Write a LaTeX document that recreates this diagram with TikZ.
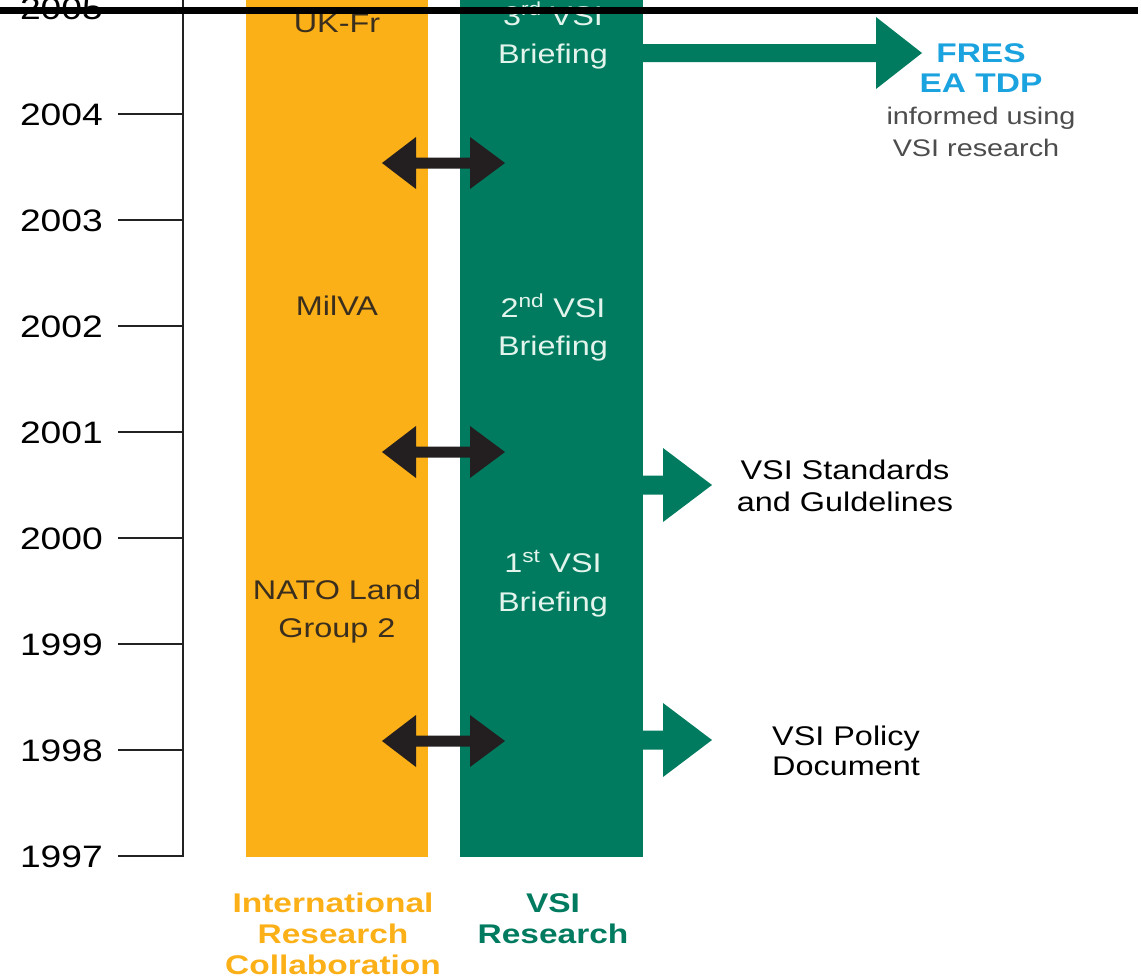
\documentclass[tikz,border=0pt]{standalone}
\usepackage{fontspec}
\setmainfont{Liberation Sans}[FakeStretch=1.2]
\newfontfamily\boldfam{Liberation Sans Bold}[FakeStretch=1.24]
\definecolor{barorange}{HTML}{FCB017}
\definecolor{bargreen}{HTML}{007B5F}
\definecolor{arrowblack}{HTML}{231F20}
\definecolor{darktext}{HTML}{3A2E1E}
\definecolor{lighttext}{HTML}{E3F4EC}
\definecolor{fresblue}{HTML}{1BA3E0}
\definecolor{graytext}{HTML}{4D4D4D}
\definecolor{axisgray}{HTML}{222222}
\tikzset{
  year/.style={anchor=base east, inner sep=0pt, font=\fontsize{31}{36}\selectfont, text=black},
  bartxt/.style={anchor=base, inner sep=0pt, font=\fontsize{27}{32}\selectfont},
  otxt/.style={bartxt, text=darktext},
  gtxt/.style={bartxt, text=lighttext},
  rtxt/.style={anchor=base, inner sep=0pt, font=\fontsize{27}{32}\selectfont, text=black},
  stxt/.style={anchor=base, inner sep=0pt, font=\fontsize{24}{30}\selectfont, text=graytext},
  btxt/.style={anchor=base, inner sep=0pt, font=\boldfam\fontsize{27}{32}\selectfont},
  axisline/.style={draw=axisgray, line width=2pt},
  tickline/.style={draw=axisgray, line width=1.6pt},
  dblarrow/.pic={\fill[arrowblack] (-61.5,0) -- (-27.5,26) -- (-27.5,5.5) -- (26.5,5.5) -- (26.5,26) -- (61.5,0) -- (26.5,-26) -- (26.5,-5.5) -- (-27.5,-5.5) -- (-27.5,-26) -- cycle;},
  garrow/.pic={\fill[bargreen] (0,-9.5) -- (23,-9.5) -- (23,-37) -- (72,0) -- (23,37) -- (23,9.5) -- (0,9.5) -- cycle;}
}
\begin{document}
\begin{tikzpicture}[x=1pt,y=-1pt]
\useasboundingbox (0,0) rectangle (1141,980);
\clip (0,0) rectangle (1141,980);
\fill[white] (0,0) rectangle (1141,980);
% bars
\fill[barorange] (246,-5) rectangle (428,857) coordinate (orangebar);
\fill[bargreen] (460,-5) rectangle (643,857) coordinate (greenbar);
% axis
\coordinate (axtop) at (183,-5);
\coordinate (axbot) at (183,857);
\draw[axisline] (axtop) -- (axbot);
\foreach \yr/\yy in {2005/8,2004/114,2003/220,2002/326,2001/432,2000/538,1999/644,1998/750,1997/856}{
  \coordinate (t\yr) at (118,\yy);
  \coordinate (a\yr) at (184,\yy);
  \draw[tickline] (t\yr) -- (a\yr);
  \node[year] (y\yr) at (103,\yy+11) {\yr};
}
% double arrows
\pic at (443.5,163) {dblarrow};
\pic at (443.5,452) {dblarrow};
\pic at (443.5,741) {dblarrow};
% green arrows
\pic at (640,485) {garrow};
\pic at (640,740) {garrow};
\fill[bargreen] (640,44) -- (876,44) -- (876,17) -- (922,53) -- (876,89) -- (876,62) -- (640,62) -- cycle;
% orange bar texts
\node[otxt] (ukfr) at (337,32) {UK-Fr};
\node[otxt] (milva) at (337,315) {MilVA};
\node[otxt] (nato1) at (337,599) {NATO Land};
\node[otxt] (nato2) at (337,637) {Group 2};
% green bar texts
\node[gtxt] (b3a) at (553,25) {3\textsuperscript{rd} VSI};
\node[gtxt] (b3b) at (553,63) {Briefing};
\node[gtxt] (b2a) at (553,317) {2\textsuperscript{nd} VSI};
\node[gtxt] (b2b) at (553,355) {Briefing};
\node[gtxt] (b1a) at (553,572) {1\textsuperscript{st} VSI};
\node[gtxt] (b1b) at (553,611) {Briefing};
% right texts
\node[btxt, text=fresblue] (fres1) at (981,62) {FRES};
\node[btxt, text=fresblue] (fres2) at (981,92) {EA TDP};
\node[stxt] (inf1) at (981,124) {informed using};
\node[stxt] (inf2) at (976,156) {VSI research};
\node[rtxt] (std1) at (845,479) {VSI Standards};
\node[rtxt] (std2) at (845,511) {and Guldelines};
\node[rtxt] (pol1) at (846,745) {VSI Policy};
\node[rtxt] (pol2) at (846,775) {Document};
% bottom labels
\node[btxt, text=barorange] (irc1) at (333,912) {International};
\node[btxt, text=barorange] (irc2) at (333,943) {Research};
\node[btxt, text=barorange] (irc3) at (333,974) {Collaboration};
\node[btxt, text=bargreen] (vr1) at (553,912) {VSI};
\node[btxt, text=bargreen] (vr2) at (553,943) {Research};
% top black bar
\fill[black] (0,6.5) rectangle (1138,13.5);
\end{tikzpicture}
\end{document}
